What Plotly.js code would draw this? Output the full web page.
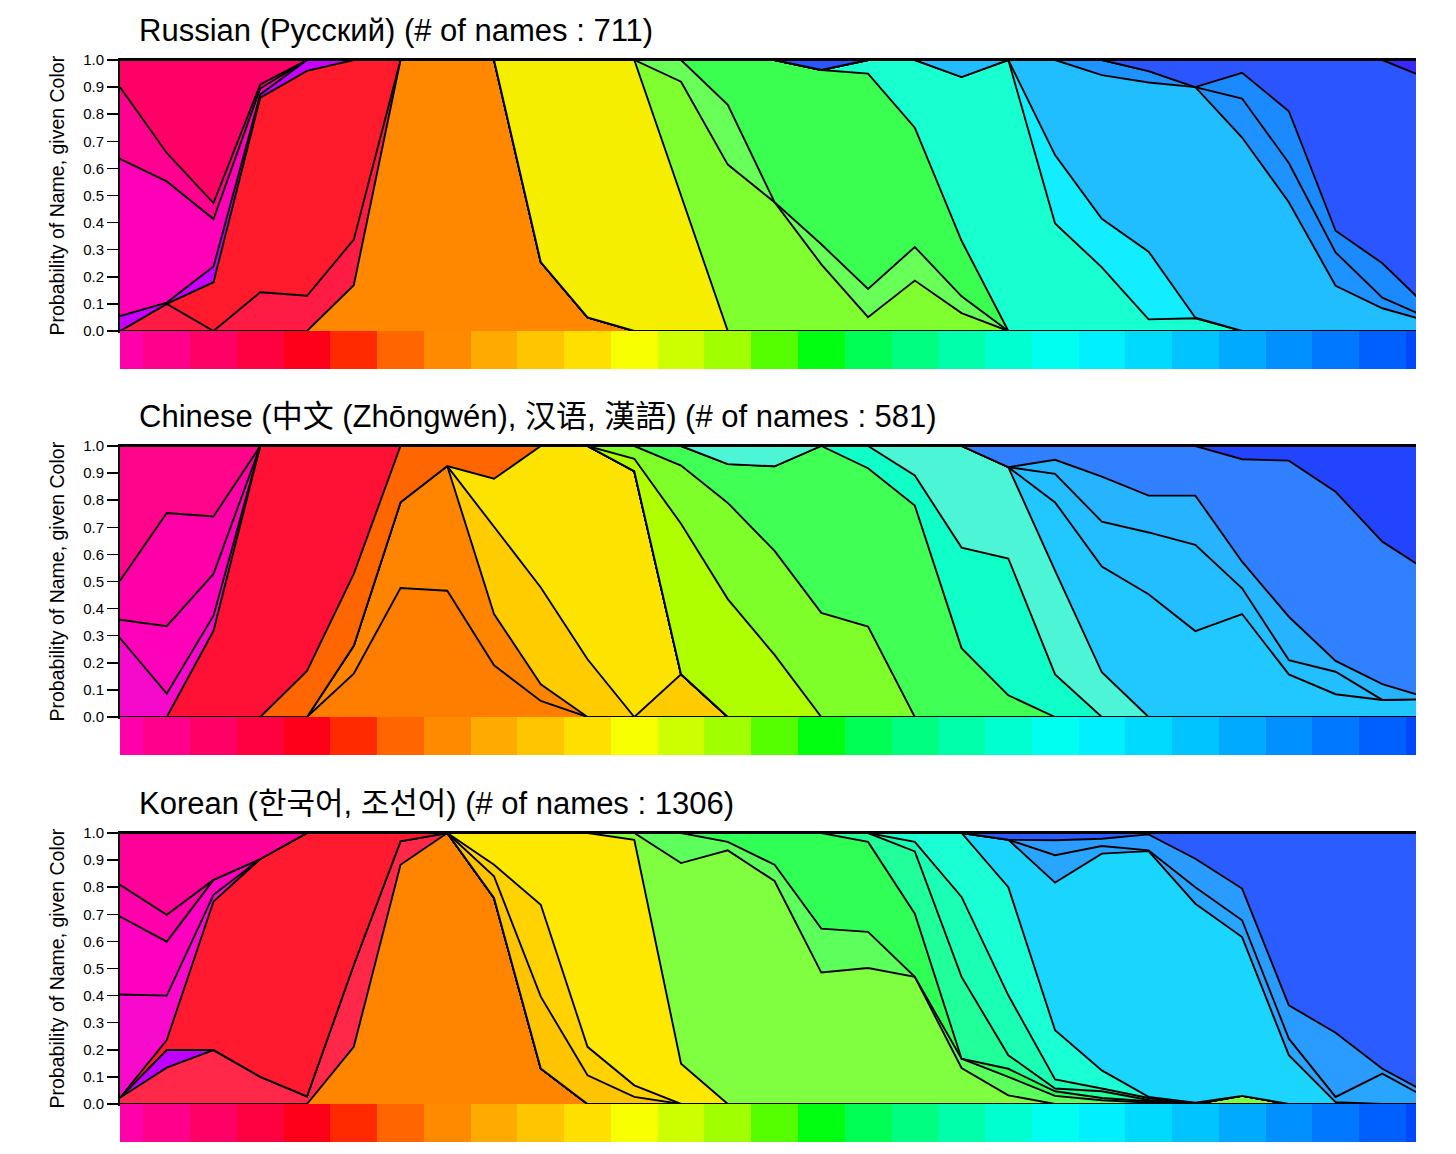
<!DOCTYPE html>
<html>
<head>
<meta charset="utf-8">
<script src="https://cdn.plot.ly/plotly-3.0.1.min.js"></script>
<style>
  html, body { margin: 0; padding: 0; background: #ffffff; }
  #chart { width: 1456px; height: 1154px; }
</style>
</head>
<body>
<div id="chart"></div>
<script>
// ---------- shared data ----------
const hueIndex = [0,1,2,3,4, 5,6,7,8,9, 10,11,12,13,14, 15,16,17,18,19, 20,21,22,23,24, 25,26,27,28];
const swatchColors = ['#FF00AA','#FF008C','#FF0066','#FF0040','#FF001A','#FF2A00','#FF6600','#FF8A00','#FFAA00','#FFC600',
  '#FFDF00','#F8FF00','#CCFF00','#A0FF00','#55FF00','#00FF10','#00FF55','#00FF80','#00FFAA','#00FFD0',
  '#00FFF0','#00F0FF','#00DAFF','#00C4FF','#00AAFF','#0090FF','#0078FF','#0060FF','#0048FF'];
const yTicks = [0,0.1,0.2,0.3,0.4,0.5,0.6,0.7,0.8,0.9,1.0];
const titles = ['Russian (Русский) (# of names : 711)',
  'Chinese (中文 (Zhōngwén), 汉语, 漢語) (# of names : 581)',
  'Korean (한국어, 조선어) (# of names : 1306)'];
const yTitle = 'Probability of Name, given Color';

// ---------- Russian ----------
const ruOrange     = [0,0,0,0,0, 0.169,1,1,1,0.254, 0.05,0,0,0,0, 0,0,0,0,0, 0,0,0,0,0, 0,0,0,0];
const ruCrimson    = [0,0.10,0,0.143,0.13, 0.168,0,0,0,0, 0,0,0,0,0, 0,0,0,0,0, 0,0,0,0,0, 0,0,0,0];
const ruRed        = [0,0,0.18,0.718,0.83, 0.663,0,0,0,0, 0,0,0,0,0, 0,0,0,0,0, 0,0,0,0,0, 0,0,0,0];
const ruPurple     = [0.055,0.005,0.058,0.012,0.04, 0,0,0,0,0, 0,0,0,0,0, 0,0,0,0,0, 0,0,0,0,0, 0,0,0,0];
const ruMagenta    = [0.58,0.447,0.175,0.022,0, 0,0,0,0,0, 0,0,0,0,0, 0,0,0,0,0, 0,0,0,0,0, 0,0,0,0];
const ruHotPink    = [0.265,0.105,0.059,0.015,0, 0,0,0,0,0, 0,0,0,0,0, 0,0,0,0,0, 0,0,0,0,0, 0,0,0,0];
const ruDeepPink   = [0.10,0.343,0.528,0.09,0, 0,0,0,0,0, 0,0,0,0,0, 0,0,0,0,0, 0,0,0,0,0, 0,0,0,0];
const ruYellow     = [0,0,0,0,0, 0,0,0,0,0.746, 0.95,1.0,0.5,0,0, 0,0,0,0,0, 0,0,0,0,0, 0,0,0,0];
const ruLime       = [0,0,0,0,0, 0,0,0,0,0, 0,0,0.42,0.614,0.475, 0.246,0.051,0.186,0.066,0, 0,0,0,0,0, 0,0,0,0];
const ruLightGreen = [0,0,0,0,0, 0,0,0,0,0, 0,0,0.08,0.221,0, 0.074,0.104,0.124,0.062,0, 0,0,0,0,0, 0,0,0,0];
const ruGreen      = [0,0,0,0,0, 0,0,0,0,0, 0,0,0,0.165,0.525, 0.643,0.795,0.44,0.205,0, 0,0,0,0,0, 0,0,0,0];
const ruTeal       = [0,0,0,0,0, 0,0,0,0,0, 0,0,0,0,0, 0,0.05,0.25,0.604,1.0, 0.397,0.235,0.043,0.047,0, 0,0,0,0];
const ruCyan       = [0,0,0,0,0, 0,0,0,0,0, 0,0,0,0,0, 0,0,0,0,0, 0.252,0.179,0.25,0.002,0, 0,0,0,0];
const ruSky        = [0,0,0,0,0, 0,0,0,0,0, 0,0,0,0,0, 0,0,0,0.063,0, 0.351,0.53,0.624,0.851,0.714, 0.475,0.167,0.084,0.035];
const ruAzure1     = [0,0,0,0,0, 0,0,0,0,0, 0,0,0,0,0, 0,0,0,0,0, 0,0.056,0.042,0,0.144, 0.145,0.123,0.039,0.012];
const ruAzure2     = [0,0,0,0,0, 0,0,0,0,0, 0,0,0,0,0, 0,0,0,0,0, 0,0,0,0,0.095, 0.191,0.08,0.127,0.036];
const ruBlue       = [0,0,0,0,0, 0,0,0,0,0, 0,0,0,0,0, 0.037,0,0,0,0, 0,0,0.041,0.10,0.047, 0.189,0.63,0.75,0.847];
const ruViolet     = [0,0,0,0,0, 0,0,0,0,0, 0,0,0,0,0, 0,0,0,0,0, 0,0,0,0,0, 0,0,0,0.07];

// ---------- Chinese ----------
const zhOrangeA    = [0,0,0,0,0, 0.16,0.476,0.466,0.191,0.059, 0,0,0,0,0, 0,0,0,0,0, 0,0,0,0,0, 0,0,0,0];
const zhOrangeB    = [0,0,0,0,0, 0.103,0.316,0.46,0.189,0.062, 0,0,0,0,0, 0,0,0,0,0, 0,0,0,0,0, 0,0,0,0];
const zhGold       = [0,0,0,0,0, 0,0,0,0.32,0.357, 0.213,0,0.158,0,0, 0,0,0,0,0, 0,0,0,0,0, 0,0,0,0];
const zhYellow     = [0,0,0,0,0, 0,0,0,0.179,0.522, 0.787,0.907,0,0,0, 0,0,0,0,0, 0,0,0,0,0, 0,0,0,0];
const zhDarkOrange = [0,0,0,0,0.17, 0.265,0.208,0.074,0.121,0, 0,0,0,0,0, 0,0,0,0,0, 0,0,0,0,0, 0,0,0,0];
const zhRed        = [0,0,0.318,1,0.83, 0.472,0,0,0,0, 0,0,0,0,0, 0,0,0,0,0, 0,0,0,0,0, 0,0,0,0];
const zhPink1      = [0.291,0.086,0.056,0,0, 0,0,0,0,0, 0,0,0,0,0, 0,0,0,0,0, 0,0,0,0,0, 0,0,0,0];
const zhPink2      = [0.068,0.249,0.154,0,0, 0,0,0,0,0, 0,0,0,0,0, 0,0,0,0,0, 0,0,0,0,0, 0,0,0,0];
const zhPink3      = [0.144,0.418,0.212,0,0, 0,0,0,0,0, 0,0,0,0,0, 0,0,0,0,0, 0,0,0,0,0, 0,0,0,0];
const zhPink4      = [0.497,0.247,0.26,0,0, 0,0,0,0,0, 0,0,0,0,0, 0,0,0,0,0, 0,0,0,0,0, 0,0,0,0];
const zhChartreuse = [0,0,0,0,0, 0,0,0,0,0, 0,0.046,0.555,0.435,0.229, 0,0,0,0,0, 0,0,0,0,0, 0,0,0,0];
const zhLime       = [0,0,0,0,0, 0,0,0,0,0, 0,0.047,0.215,0.355,0.384, 0.384,0.334,0,0,0, 0,0,0,0,0, 0,0,0,0];
const zhGreen      = [0,0,0,0,0, 0,0,0,0,0, 0,0,0.072,0.143,0.312, 0.616,0.584,0.78,0.254,0.08, 0,0,0,0,0, 0,0,0,0];
const zhSpring     = [0,0,0,0,0, 0,0,0,0,0, 0,0,0,0,0, 0,0.082,0.111,0.371,0.505, 0.157,0,0,0,0, 0,0,0,0];
const zhAqua       = [0,0,0,0,0, 0,0,0,0,0, 0,0,0,0.067,0.075, 0,0,0.109,0.375,0.337, 0.383,0.165,0,0,0, 0,0,0,0];
const zhSky1       = [0,0,0,0,0, 0,0,0,0,0, 0,0,0,0,0, 0,0,0,0,0, 0.252,0.39,0.453,0.317,0.38, 0.157,0.084,0.063,0.066];
const zhSky2       = [0,0,0,0,0, 0,0,0,0,0, 0,0,0,0,0, 0,0,0,0,0, 0.105,0.166,0.228,0.318,0.095, 0.053,0.083,0,0];
const zhSky3       = [0,0,0,0,0, 0,0,0,0,0, 0,0,0,0,0, 0,0,0,0,0, 0.052,0.166,0.136,0.182,0.098, 0.16,0.04,0.058,0.004];
const zhCornflower = [0,0,0,0,0, 0,0,0,0,0, 0,0,0,0,0, 0,0,0,0,0.078, 0.051,0.113,0.183,0.183,0.378, 0.576,0.624,0.526,0.466];
const zhBlue       = [0,0,0,0,0, 0,0,0,0,0, 0,0,0,0,0, 0,0,0,0,0, 0,0,0,0,0.049, 0.054,0.169,0.353,0.464];

// ---------- Korean ----------
const koOrange     = [0,0,0,0,0, 0.211,0.883,1,0.76,0.131, 0,0,0,0,0, 0,0,0,0,0, 0,0,0,0,0, 0,0,0,0];
const koCrimson    = [0.023,0.134,0.199,0.10,0.028, 0.302,0.086,0,0,0, 0,0,0,0,0, 0,0,0,0,0, 0,0,0,0,0, 0,0,0,0];
const koPurple     = [0,0.065,0,0,0, 0,0,0,0,0, 0,0,0,0,0, 0,0,0,0,0, 0,0,0,0,0, 0,0,0,0];
const koRed        = [0,0.037,0.548,0.804,0.972, 0.487,0.031,0,0,0, 0,0,0,0,0, 0,0,0,0,0, 0,0,0,0,0, 0,0,0,0];
const koPink1      = [0.381,0.164,0.025,0,0, 0,0,0,0,0, 0,0,0,0,0, 0,0,0,0,0, 0,0,0,0,0, 0,0,0,0];
const koPink2      = [0.288,0.199,0.055,0,0, 0,0,0,0,0, 0,0,0,0,0, 0,0,0,0,0, 0,0,0,0,0, 0,0,0,0];
const koPink3      = [0.117,0.099,0,0,0, 0,0,0,0,0, 0,0,0,0,0, 0,0,0,0,0, 0,0,0,0,0, 0,0,0,0];
const koPink4      = [0.191,0.302,0.173,0.096,0, 0,0,0,0,0, 0,0,0,0,0, 0,0,0,0,0, 0,0,0,0,0, 0,0,0,0];
const koGold1      = [0,0,0,0,0, 0,0,0,0.08,0.265, 0.106,0.026,0,0,0, 0,0,0,0,0, 0,0,0,0,0, 0,0,0,0];
const koGold2      = [0,0,0,0,0, 0,0,0,0.043,0.339, 0.105,0.043,0,0,0, 0,0,0,0,0, 0,0,0,0,0, 0,0,0,0];
const koYellow     = [0,0,0,0,0, 0,0,0,0.117,0.265, 0.789,0.906,0.149,0,0, 0,0,0,0,0, 0,0,0,0,0, 0,0,0,0];
const koLime       = [0,0,0,0,0, 0,0,0,0,0, 0,0.025,0.74,0.936,0.823, 0.485,0.502,0.469,0.133,0.032, 0,0,0,0,0.03, 0,0,0,0];
const koLightGreen = [0,0,0,0,0, 0,0,0,0,0, 0,0,0.111,0.031,0.06, 0.162,0.133,0,0.034,0.068, 0.03,0.014,0.005,0,0, 0,0,0,0];
const koGreen      = [0,0,0,0,0, 0,0,0,0,0, 0,0,0,0.033,0.117, 0.353,0.332,0.233,0,0.03, 0.017,0.008,0.005,0,0, 0,0,0,0];
const koTeal1      = [0,0,0,0,0, 0,0,0,0,0, 0,0,0,0,0, 0,0.033,0.23,0.302,0.05, 0.01,0.025,0.005,0,0, 0,0,0,0];
const koTeal2      = [0,0,0,0,0, 0,0,0,0,0, 0,0,0,0,0, 0,0,0.035,0.295,0.221, 0.034,0.01,0.007,0,0, 0,0,0,0];
const koTeal3      = [0,0,0,0,0, 0,0,0,0,0, 0,0,0,0,0, 0,0,0.033,0.236,0.399, 0.181,0.067,0.004,0.005,0, 0,0,0,0];
const koSky        = [0,0,0,0,0, 0,0,0,0,0, 0,0,0,0,0, 0,0,0,0,0.175, 0.545,0.80,0.907,0.734,0.586, 0.18,0.007,0,0];
const koAzure1     = [0,0,0,0,0, 0,0,0,0,0, 0,0,0,0,0, 0,0,0,0,0, 0.101,0.028,0.003,0.061,0.062, 0.061,0.019,0.112,0.018];
const koAzure2     = [0,0,0,0,0, 0,0,0,0,0, 0,0,0,0,0, 0,0,0,0,0, 0.055,0.027,0.059,0.105,0.117, 0.123,0.237,0.018,0.019];
const koBlue       = [0,0,0,0,0, 0,0,0,0,0, 0,0,0,0,0, 0,0,0,0,0.025, 0.027,0.021,0.005,0.095,0.205, 0.636,0.737,0.87,0.963];

// ---------- layer tables (bottom to top) ----------
const ruLayers = [
  [ruOrange,'#FF8800'],[ruCrimson,'#FF1C44'],[ruRed,'#FF1A2C'],[ruPurple,'#C800FF'],
  [ruMagenta,'#FF00B8'],[ruHotPink,'#FF0090'],[ruDeepPink,'#FF0066'],[ruYellow,'#F6EE00'],
  [ruLime,'#80FF30'],[ruLightGreen,'#68FF58'],[ruGreen,'#3AFF50'],[ruTeal,'#18FFD0'],
  [ruCyan,'#12EEFF'],[ruSky,'#20BEFF'],[ruAzure1,'#1E92FF'],[ruAzure2,'#1C8AFF'],
  [ruBlue,'#2A55FF'],[ruViolet,'#3A28FF']];
const zhLayers = [
  [zhOrangeA,'#FF7E00'],[zhOrangeB,'#FF8400'],[zhGold,'#FFCC00'],[zhYellow,'#FCE400'],
  [zhDarkOrange,'#FF6600'],[zhRed,'#FF1035'],[zhPink1,'#F50ACB'],[zhPink2,'#FF00BB'],
  [zhPink3,'#FF00A8'],[zhPink4,'#FF058C'],[zhChartreuse,'#B0FF00'],[zhLime,'#7FFF2A'],
  [zhGreen,'#40FF55'],[zhSpring,'#10FFC8'],[zhAqua,'#4CF5D5'],[zhSky1,'#20C8FF'],
  [zhSky2,'#22BEFF'],[zhSky3,'#26B4FF'],[zhCornflower,'#3080FF'],[zhBlue,'#2244FF']];
const koLayers = [
  [koOrange,'#FF8400'],[koCrimson,'#FF2848'],[koPurple,'#C000FF'],[koRed,'#FF1A30'],
  [koPink1,'#F80ACD'],[koPink2,'#FF00C0'],[koPink3,'#FF00AA'],[koPink4,'#FF0099'],
  [koGold1,'#FFC400'],[koGold2,'#FFD200'],[koYellow,'#FFE800'],[koLime,'#80FF40'],
  [koLightGreen,'#5CFF5C'],[koGreen,'#30FF55'],[koTeal1,'#20FF9A'],[koTeal2,'#1AFFB4'],
  [koTeal3,'#1AFFD4'],[koSky,'#1AD6FF'],[koAzure1,'#28A6FF'],[koAzure2,'#2A9CFF'],
  [koBlue,'#2A5CFF']];

// ---------- build ----------
const W = 1456, H = 1154;
const plotLeft = 120, plotRight = 1416;
const panelTops = [60, 446, 833];
const panelHeight = 271;
const stripHeight = 38;
const FONT = 'Liberation Sans, Arial, Helvetica, "Noto Sans CJK SC", "Noto Sans CJK KR", sans-serif';

const traces = [];
const layout = {
  width: W, height: H,
  margin: {l: 0, r: 0, t: 0, b: 0},
  paper_bgcolor: '#ffffff', plot_bgcolor: 'rgba(0,0,0,0)',
  showlegend: false,
  annotations: [],
  font: {family: FONT, color: '#000'}
};
const colorscale = swatchColors.map((c, i) => [i / (swatchColors.length - 1), c]);

[ruLayers, zhLayers, koLayers].forEach((layers, p) => {
  const n = p + 1;
  const xa = n === 1 ? 'x' : 'x' + n;
  const ya = n === 1 ? 'y' : 'y' + n;
  const ys = 'y' + (n + 3);
  layers.forEach(([vals, col]) => {
    traces.push({
      type: 'scatter', mode: 'lines', x: hueIndex, y: vals,
      stackgroup: 'panel' + n, fillcolor: col,
      line: {color: '#000000', width: 1.9, shape: 'linear'},
      xaxis: xa, yaxis: ya, hoverinfo: 'skip'
    });
  });
  traces.push({
    type: 'heatmap', x: hueIndex, y: [0], z: [hueIndex],
    colorscale: colorscale, zmin: 0, zmax: 28, showscale: false,
    xaxis: xa, yaxis: ys, hoverinfo: 'skip'
  });
  const top = panelTops[p];
  const bottom = top + panelHeight;
  const xKey = n === 1 ? 'xaxis' : 'xaxis' + n;
  const yKey = n === 1 ? 'yaxis' : 'yaxis' + n;
  layout[xKey] = {
    domain: [plotLeft / W, plotRight / W], range: [0, 27.72], anchor: ya,
    showline: true, mirror: true, linecolor: '#000', linewidth: 2,
    showticklabels: false, ticks: '', showgrid: false, zeroline: false, fixedrange: true
  };
  layout[yKey] = {
    domain: [1 - bottom / H, 1 - top / H], range: [0, 1], anchor: xa,
    tickvals: yTicks, tickformat: '.1f', ticks: 'outside', ticklen: 11, tickwidth: 1.5,
    tickcolor: '#000', showline: true, linecolor: '#000', linewidth: 2,
    showgrid: false, zeroline: false, fixedrange: true,
    tickfont: {size: 15, family: FONT, color: '#000'}
  };
  layout['yaxis' + (n + 3)] = {
    domain: [1 - (bottom + stripHeight) / H, 1 - bottom / H], anchor: xa,
    range: [-0.5, 0.5], visible: false, fixedrange: true
  };
  layout.annotations.push({
    text: titles[p], xref: 'paper', yref: 'paper',
    x: 137 / W, y: 1 - (top - 30) / H, xanchor: 'left', yanchor: 'middle',
    showarrow: false, font: {size: 31, family: FONT, color: '#000'}
  });
  layout.annotations.push({
    text: yTitle, xref: 'paper', yref: 'paper', textangle: -90,
    x: 56 / W, y: 1 - (top + panelHeight / 2) / H, xanchor: 'center', yanchor: 'middle',
    showarrow: false, font: {size: 19.5, family: FONT, color: '#000'}
  });
});

Plotly.newPlot('chart', traces, layout, {staticPlot: true, displayModeBar: false});
</script>
</body>
</html>
